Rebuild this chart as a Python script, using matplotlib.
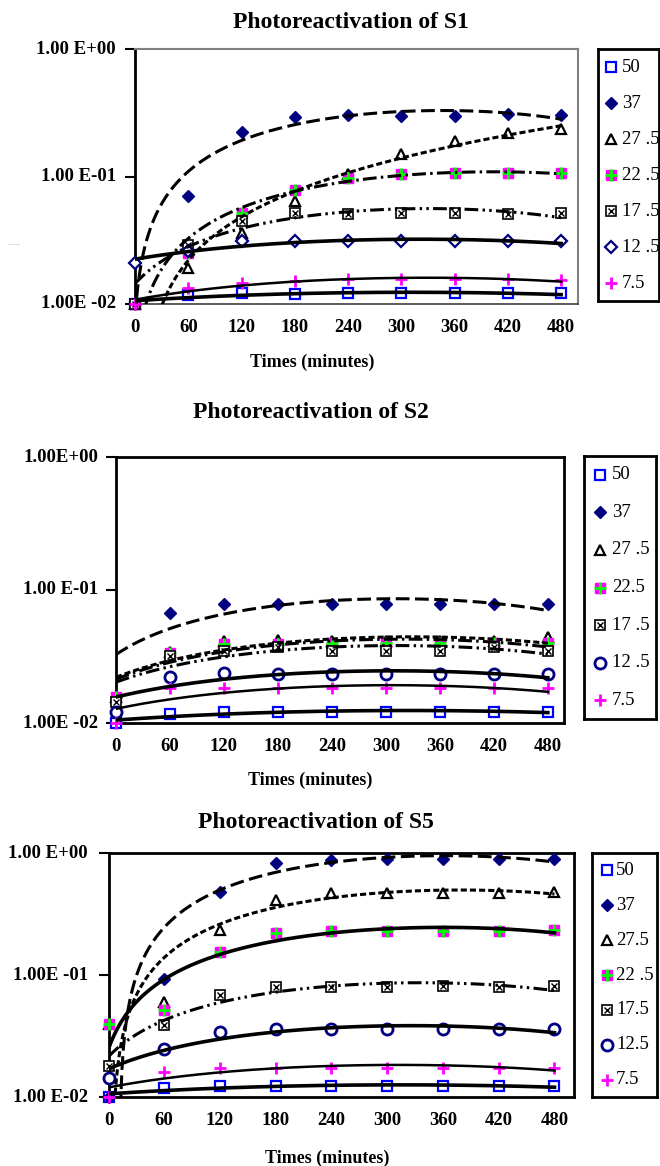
import numpy as np
import matplotlib.pyplot as plt
from matplotlib.transforms import blended_transform_factory

plt.rcParams['font.family'] = ['Liberation Serif', 'DejaVu Serif']
plt.rcParams['font.weight'] = 'bold'

W, H = 660, 1166

# ---------------------------------------------------------------------------
# data (survival fraction vs time, log scale)
# ---------------------------------------------------------------------------
times = [0, 60, 120, 180, 240, 300, 360, 420, 480]
doses = ['50', '37', '27.5', '22.5', '17.5', '12.5', '7.5']

s1_50 = [0.0100, 0.0118, 0.0122, 0.0120, 0.0121, 0.0121, 0.0121, 0.0121, 0.0121]
s1_37 = [0.0100, 0.070, 0.223, 0.293, 0.303, 0.300, 0.300, 0.310, 0.303]
s1_275 = [0.0100, 0.019, 0.036, 0.064, 0.105, 0.149, 0.191, 0.218, 0.235]
s1_225 = [0.0100, 0.025, 0.052, 0.079, 0.097, 0.104, 0.106, 0.106, 0.106]
s1_175 = [0.0100, 0.029, 0.045, 0.052, 0.051, 0.052, 0.052, 0.051, 0.052]
s1_125 = [0.0210, 0.026, 0.031, 0.031, 0.031, 0.031, 0.031, 0.031, 0.031]
s1_75 = [0.0100, 0.0133, 0.0145, 0.0151, 0.0156, 0.0156, 0.0156, 0.0156, 0.0154]

s2_50 = [0.0100, 0.0117, 0.0120, 0.0120, 0.0122, 0.0122, 0.0122, 0.0122, 0.0122]
s2_37 = [0.0158, 0.067, 0.078, 0.079, 0.078, 0.078, 0.078, 0.078, 0.078]
s2_275 = [0.0158, 0.034, 0.041, 0.042, 0.041, 0.041, 0.041, 0.041, 0.044]
s2_225 = [0.0158, 0.0334, 0.039, 0.039, 0.040, 0.040, 0.040, 0.040, 0.040]
s2_175 = [0.0145, 0.032, 0.035, 0.037, 0.035, 0.035, 0.035, 0.037, 0.035]
s2_125 = [0.0122, 0.0223, 0.0236, 0.0234, 0.0232, 0.0232, 0.0232, 0.0232, 0.0234]
s2_75 = [0.0100, 0.0182, 0.0182, 0.0182, 0.0182, 0.0182, 0.0182, 0.0182, 0.0182]

s5_50 = [0.0100, 0.0119, 0.0122, 0.0123, 0.0123, 0.0123, 0.0123, 0.0123, 0.0123]
s5_37 = [0.0100, 0.092, 0.480, 0.830, 0.880, 0.890, 0.890, 0.890, 0.890]
s5_275 = [0.0400, 0.060, 0.234, 0.410, 0.470, 0.470, 0.470, 0.470, 0.480]
s5_225 = [0.0400, 0.052, 0.155, 0.220, 0.230, 0.230, 0.230, 0.230, 0.235]
s5_175 = [0.0180, 0.039, 0.068, 0.080, 0.080, 0.080, 0.081, 0.079, 0.081]
s5_125 = [0.0143, 0.0246, 0.034, 0.036, 0.036, 0.036, 0.036, 0.036, 0.036]
s5_75 = [0.0100, 0.016, 0.0174, 0.0174, 0.0174, 0.0174, 0.0174, 0.0174, 0.0174]

fig = plt.figure(figsize=(W / 100, H / 100), dpi=100)


def px_box(l, r, t, b):
    return [l / W, 1 - b / H, (r - l) / W, (b - t) / H]


def draw_markers(ax, x, y, kind):
    kw = dict(ls='none', clip_on=False, zorder=4)
    if kind == 'square':
        ax.plot(x, y, 's', ms=7, mfc='white', mec='#0000FF', mew=1.6, **kw)
    elif kind == 'diamond':
        ax.plot(x, y, 'D', ms=6.5, mfc='#000080', mec='#000080', **kw)
    elif kind == 'triangle':
        ax.plot(x, y, '^', ms=7, mfc='white', mec='black', mew=1.6, **kw)
    elif kind == 'pinkplus':
        ax.plot(x, y, 's', ms=6.5, mfc='#FF00FF', mec='#FF00FF', **kw)
        ax.plot(x, y, '+', ms=8, mec='#00FF00', mew=2, **kw)
    elif kind == 'boxx':
        ax.plot(x, y, 's', ms=6.5, mfc='white', mec='black', mew=1.2, **kw)
        ax.plot(x, y, 'x', ms=5, mec='black', mew=1.0, **kw)
    elif kind == 'odiamond':
        ax.plot(x, y, 'D', ms=6.5, mfc='white', mec='#000080', mew=1.6, **kw)
    elif kind == 'circle':
        ax.plot(x, y, 'o', ms=8, mfc='white', mec='#000080', mew=2, **kw)
    elif kind == 'plus':
        ax.plot(x, y, '+', ms=9, mec='#FF00FF', mew=2, **kw)


LONG = (0, (4.5, 1.8))
SHORT = (0, (2.0, 1.0))
DASHDOT = (0, (4.5, 1.4, 0.8, 1.4))
DASHDOTDOT = (0, (4.5, 1.4, 0.8, 1.4, 0.8, 1.4))


def trend(ax, y, style, lw, order=2):
    # Excel-style polynomial trendline on the category index
    idx = np.arange(len(times))
    coef = np.polyfit(idx, y, order)
    xs = np.linspace(0, len(times) - 1, 300)
    ys = np.polyval(coef, xs)
    ys = np.where(ys > 0, ys, np.nan)
    ax.plot(xs * 60, ys, color='black', ls=style, lw=lw, zorder=5,
            dash_capstyle='butt')


def panel(series, kinds, styles, box, xright, title, title_xy, ylabels,
          ylabel_right, xlab_y, xlab_x, legend_box, legend_labels,
          leg_mx, leg_tx, gray_frame=False):
    ax = fig.add_axes(px_box(*box))
    ax.set_yscale('log')
    ax.set_ylim(1e-2, 1e0)
    ax.set_xlim(0, xright)
    for y, kind, (st, lw) in zip(series, kinds, styles):
        draw_markers(ax, times, y, kind)
        trend(ax, y, st, lw)
    ax.set_xticks(times)
    ax.set_xticklabels([str(t) for t in times], fontsize=13.5, fontweight='bold')
    ax.tick_params(axis='x', length=0, pad=11)
    ax.set_yticks([1e-2, 1e-1, 1e0])
    ax.set_yticklabels([])
    ax.yaxis.set_minor_locator(plt.NullLocator())
    ax.tick_params(axis='y', length=7, width=1.5, direction='out')
    tr = blended_transform_factory(fig.transFigure, ax.transData)
    for v, lab in zip([1e0, 1e-1, 1e-2], ylabels):
        ax.text(ylabel_right / W, v, lab, transform=tr, ha='right',
                va='center', fontsize=13.5, fontweight='bold')
    for sp in ax.spines.values():
        sp.set_linewidth(2)
        sp.set_color('black')
    if gray_frame:
        for k in ('top', 'right'):
            ax.spines[k].set_color('#808080')
            ax.spines[k].set_linewidth(1.5)
        ax.spines['bottom'].set_color('#404040')
        ax.spines['bottom'].set_linewidth(1.2)
    fig.text(title_xy[0] / W, 1 - title_xy[1] / H, title, ha='center',
             va='center', fontsize=17, fontweight='bold')
    fig.text(xlab_x / W, 1 - xlab_y / H, 'Times (minutes)', ha='center',
             va='center', fontsize=13, fontweight='bold')

    # legend box
    lg = fig.add_axes(px_box(*legend_box))
    lg.set_xlim(0, 1)
    lg.set_ylim(0, 1)
    lg.set_xticks([])
    lg.set_yticks([])
    for sp in lg.spines.values():
        sp.set_linewidth(2)
        sp.set_color('black')
    n = len(legend_labels)
    for i, (kind, lab) in enumerate(zip(kinds, legend_labels)):
        yy = 1 - (i + 0.5) / n
        draw_markers(lg, [leg_mx], [yy], kind)
        lg.text(leg_tx, yy, lab, ha='left', va='center', fontsize=13.5,
                fontweight='normal')
    return ax


# S1
ax1 = panel(
    [s1_50, s1_37, s1_275, s1_225, s1_175, s1_125, s1_75],
    ['square', 'diamond', 'triangle', 'pinkplus', 'boxx', 'odiamond', 'plus'],
    [('-', 2.6), (LONG, 2.2), (SHORT, 2.2), (DASHDOT, 2.2),
     (DASHDOTDOT, 2.2), ('-', 2.6), ('-', 1.8)],
    (135, 578, 49, 304), 499, 'Photoreactivation of S1', (351, 23),
    ['1.00 E+00', '1.00 E-01', '1.00E -02'], 116, 362, 312,
    (598, 659, 49, 301), ['50', '37', '27 .5', '22 .5', '17 .5', '12 .5', '7.5'],
    0.21, 0.39, gray_frame=True)
fig.text(8 / W, 1 - 244 / H, 'Survival fraction', fontsize=1.3,
         color='#888888', va='center', fontweight='normal')

# S2
ax2 = panel(
    [s2_50, s2_37, s2_275, s2_225, s2_175, s2_125, s2_75],
    ['square', 'diamond', 'triangle', 'pinkplus', 'boxx', 'circle', 'plus'],
    [('-', 2.6), (LONG, 2.2), (SHORT, 2.2), (DASHDOT, 2.2),
     (DASHDOTDOT, 2.2), ('-', 2.6), ('-', 1.8)],
    (116, 564, 457, 723), 498, 'Photoreactivation of S2', (311, 413),
    ['1.00E+00', '1.00 E-01', '1.00E -02'], 98, 780, 310,
    (584, 656, 456, 719), ['50', '37', '27 .5', '22.5', '17 .5', '12 .5', '7.5'],
    0.22, 0.39)

# S5
ax3 = panel(
    [s5_50, s5_37, s5_275, s5_225, s5_175, s5_125, s5_75],
    ['square', 'diamond', 'triangle', 'pinkplus', 'boxx', 'circle', 'plus'],
    [('-', 2.6), (LONG, 2.2), (SHORT, 2.2), ('-', 2.6),
     (DASHDOTDOT, 2.2), ('-', 2.6), ('-', 1.8)],
    (108.5, 574, 853, 1097), 501, 'Photoreactivation of S5', (316, 823),
    ['1.00 E+00', '1.00E -01', '1.00 E-02'], 88, 1158, 327,
    (592, 657, 853, 1097), ['50', '37', '27.5', '22 .5', '17.5', '12.5', '7.5'],
    0.23, 0.37)

fig.savefig('out.png', dpi=100)
